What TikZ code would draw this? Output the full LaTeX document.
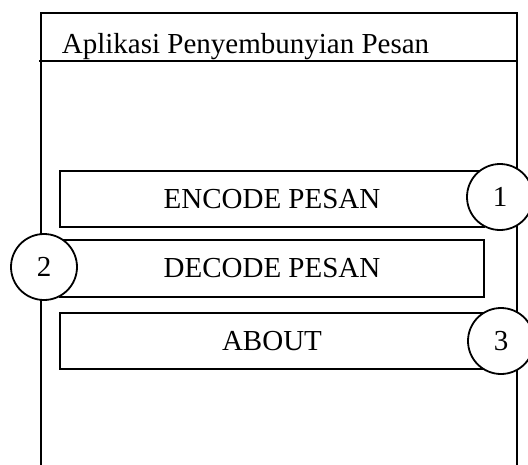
\documentclass[tikz,border=0pt]{standalone}
\usepackage{fontspec}
\setmainfont{Liberation Serif}

\begin{document}
\begin{tikzpicture}[x=1pt, y=-1pt, line width=1.8pt]
            \tikzstyle{every node}=[font=\fontsize{29}{34}\selectfont, text=black]
            \tikzstyle{button}=[draw=black, rectangle, minimum width=424pt, minimum height=56pt, inner sep=0pt]
            \tikzstyle{num}=[draw=black, fill=white, circle, minimum size=66pt, inner sep=0pt]

            \useasboundingbox (0,0) rectangle (528,464);

            % window frame, open at the bottom
            \coordinate (fbl) at (41,470);
            \coordinate (ftl) at (41,13);
            \coordinate (ftr) at (517,13);
            \coordinate (fbr) at (517,470);
            \coordinate (hl) at (39,61);
            \coordinate (hr) at (517,61);
            \draw (fbl) -- (ftl) -- (ftr) -- (fbr);
            \draw (hl) -- (hr);

            \node[anchor=base west, inner sep=0pt] (title) at (61,53) {Aplikasi Penyembunyian Pesan};

            \node[button] (encode) at (272,199) {ENCODE PESAN};
            \node[button, minimum height=57pt] (decode) at (272,268.5) {DECODE PESAN};
            \node[button] (about) at (272,341) {ABOUT};

            \node[num] (n1) at (500,197) {1};
            \node[num] (n2) at (44,267) {2};
            \node[num] (n3) at (501,341) {3};
          \end{tikzpicture}
\end{document}
